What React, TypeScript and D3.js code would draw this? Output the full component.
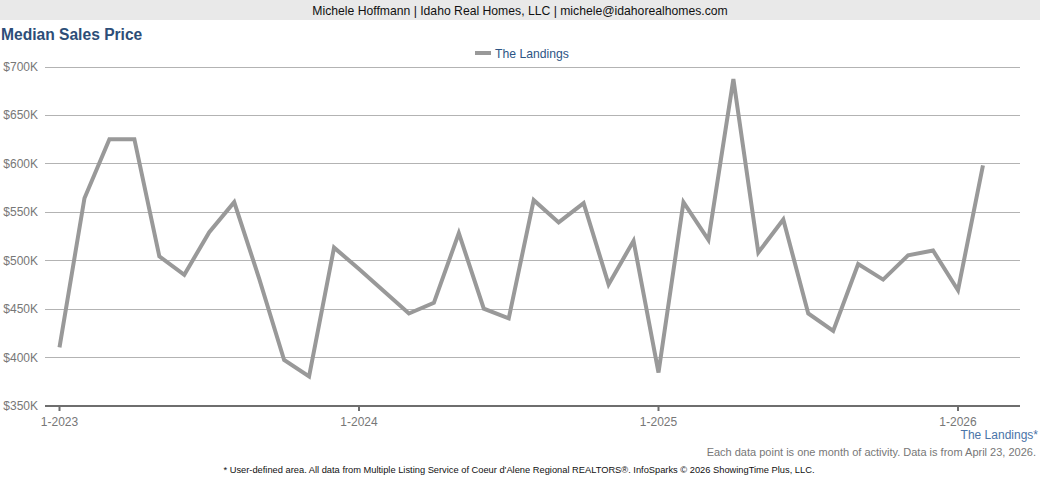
import * as d3 from 'd3';
import React, { useEffect, useRef } from 'react';

// Monthly median sales price (thousands), Jan 2023 .. Feb 2026
const months = [
  '1-2023', '2-2023', '3-2023', '4-2023', '5-2023', '6-2023', '7-2023', '8-2023', '9-2023', '10-2023', '11-2023', '12-2023',
  '1-2024', '2-2024', '3-2024', '4-2024', '5-2024', '6-2024', '7-2024', '8-2024', '9-2024', '10-2024', '11-2024', '12-2024',
  '1-2025', '2-2025', '3-2025', '4-2025', '5-2025', '6-2025', '7-2025', '8-2025', '9-2025', '10-2025', '11-2025', '12-2025',
  '1-2026', '2-2026',
];
const landings = [
  410, 564, 625, 625, 504, 485, 529, 560, 481, 397, 380, 513,
  491, 468, 445, 456, 528, 450, 440, 562, 539, 559, 475, 520,
  384, 560, 521, 687, 508, 542, 445, 427, 496, 480, 505, 510,
  469, 598,
];
const yTicks = [350, 400, 450, 500, 550, 600, 650, 700];
const xTickLabels = ['1-2023', '1-2024', '1-2025', '1-2026'];

const FONT = 'Arial, "Liberation Sans", Helvetica, sans-serif';

const App: React.FC = () => {
  const ref = useRef<SVGSVGElement | null>(null);

  useEffect(() => {
    if (!ref.current) return;
    document.body.style.margin = '0';
    const svg = d3.select(ref.current);
    svg.selectAll('*').remove();

    const W = 1040;
    const left = 45;
    const right = 1020;

    // header band
    svg.append('rect').attr('x', 0).attr('y', 0).attr('width', W).attr('height', 20).attr('fill', '#e9e9e9');
    svg
      .append('text')
      .attr('x', 520)
      .attr('y', 15)
      .attr('text-anchor', 'middle')
      .style('font-size', '12.2px')
      .attr('fill', '#111')
      .text('Michele Hoffmann | Idaho Real Homes, LLC | michele@idahorealhomes.com');

    svg
      .append('text')
      .attr('x', 1)
      .attr('y', 40)
      .style('font-size', '15.6px')
      .style('font-weight', 'bold')
      .attr('fill', '#2d4e78')
      .text('Median Sales Price');

    // legend
    svg.append('line').attr('x1', 475).attr('x2', 491).attr('y1', 53).attr('y2', 53).attr('stroke', '#999').attr('stroke-width', 4);
    svg
      .append('text')
      .attr('x', 495)
      .attr('y', 58)
      .style('font-size', '12.2px')
      .attr('fill', '#2d5585')
      .text('The Landings');

    const x = d3.scaleLinear().domain([0, months.length - 2]).range([59.5, 958]);
    const y = d3.scaleLinear().domain([350, 700]).range([405.5, 66.5]);

    // grid
    svg
      .append('g')
      .selectAll('line')
      .data(yTicks.slice(1))
      .enter()
      .append('line')
      .attr('x1', left)
      .attr('x2', right)
      .attr('y1', (d) => Math.round(y(d)) + 0.5)
      .attr('y2', (d) => Math.round(y(d)) + 0.5)
      .attr('stroke', '#b3b3b3')
      .attr('stroke-width', 1);

    svg
      .append('g')
      .selectAll('text')
      .data(yTicks)
      .enter()
      .append('text')
      .attr('x', 38)
      .attr('y', (d) => y(d) + 4.5)
      .attr('text-anchor', 'end')
      .style('font-size', '12px')
      .attr('fill', '#777')
      .text((d) => `$${d}K`);

    // x axis
    svg
      .append('line')
      .attr('x1', left)
      .attr('x2', right)
      .attr('y1', 406)
      .attr('y2', 406)
      .attr('stroke', '#6e6e6e')
      .attr('stroke-width', 2);

    const xAxis = svg.append('g');
    xTickLabels.forEach((lab) => {
      const xi = x(months.indexOf(lab));
      xAxis.append('line').attr('x1', xi).attr('x2', xi).attr('y1', 406).attr('y2', 411).attr('stroke', '#6e6e6e').attr('stroke-width', 2);
      xAxis
        .append('text')
        .attr('x', xi)
        .attr('y', 426)
        .attr('text-anchor', 'middle')
        .style('font-size', '12px')
        .attr('fill', '#777')
        .text(lab);
    });

    // series line
    const line = d3
      .line<number>()
      .x((_, i) => x(i))
      .y((d) => y(d));

    svg
      .append('path')
      .datum(landings)
      .attr('fill', 'none')
      .attr('stroke', '#999')
      .attr('stroke-width', 4)
      .attr('stroke-linejoin', 'miter')
      .attr('d', line);

    // footnotes
    svg
      .append('text')
      .attr('x', 1038)
      .attr('y', 439)
      .attr('text-anchor', 'end')
      .style('font-size', '12px')
      .attr('fill', '#4a74a8')
      .text('The Landings*');
    svg
      .append('text')
      .attr('x', 1036)
      .attr('y', 456)
      .attr('text-anchor', 'end')
      .style('font-size', '11px')
      .attr('fill', '#777')
      .text('Each data point is one month of activity. Data is from April 23, 2026.');
    svg
      .append('text')
      .attr('x', 519)
      .attr('y', 473)
      .attr('text-anchor', 'middle')
      .style('font-size', '9.3px')
      .attr('fill', '#111')
      .text('* User-defined area. All data from Multiple Listing Service of Coeur d\'Alene Regional REALTORS®. InfoSparks © 2026 ShowingTime Plus, LLC.');
  }, []);

  return (
    <svg
      ref={ref}
      width={1040}
      height={480}
      style={{ display: 'block', position: 'absolute', left: 0, top: 0, background: '#fff', fontFamily: FONT }}
    />
  );
};

export default App;
